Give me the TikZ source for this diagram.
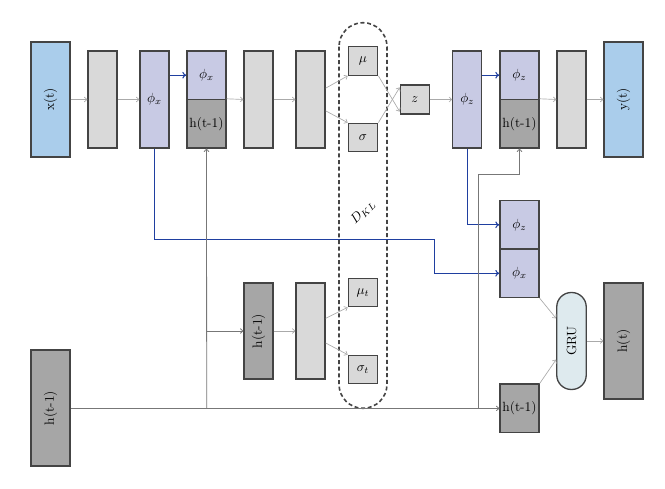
\documentclass[tikz,border=0pt]{standalone}
\usetikzlibrary{arrows.meta}
\definecolor{cblue}{HTML}{AACDEB}
\definecolor{cgray}{HTML}{D9D9D9}
\definecolor{clav}{HTML}{C8CAE4}
\definecolor{cdark}{HTML}{A6A6A6}
\definecolor{cgru}{HTML}{DEEAEE}
\definecolor{cborder}{HTML}{444444}
\definecolor{carrow}{HTML}{AAAAAA}
\definecolor{cline}{HTML}{777777}
\definecolor{cbl}{HTML}{1F3FA0}
\tikzset{
  sz/.style 2 args={minimum width=#1*0.75pt, minimum height=#2*0.75pt},
  box/.style={draw=cborder, line width=1pt, inner sep=0pt, font=\normalsize},
  inbox/.style={box, fill=cblue, sz={39}{115}},
  graybox/.style={box, fill=cgray, sz={29}{97}},
  phibox/.style={box, fill=clav, sz={29}{97}},
  halfphi/.style={box, fill=clav, sz={39}{48.5}},
  halfh/.style={box, fill=cdark, sz={39}{48.5}},
  smallbox/.style={box, fill=cgray, sz={29.5}{28.5}},
  tallh/.style={box, fill=cdark, sz={39}{116}},
  midh/.style={box, fill=cdark, sz={29}{96}},
  grubox/.style={box, fill=cgru, sz={29.5}{97}, rounded corners=14.5*0.75pt},
  garrow/.style={draw=carrow, line width=0.5pt, -{To[length=2.5pt,width=4pt]}},
  gline/.style={draw=cline, line width=0.6pt},
  garrowd/.style={gline, -{To[length=2.5pt,width=4pt]}},
  barrow/.style={draw=cbl, line width=0.8pt, -{To[length=3pt,width=5pt]}},
  dkl/.style={draw=cborder, line width=1.2pt, dash pattern=on 3pt off 2pt, rounded corners=24*0.75pt}
}
\begin{document}
\begin{tikzpicture}[x=0.75pt,y=-0.75pt]
\useasboundingbox (0,0) rectangle (665,489);
% dashed D_KL region
\draw[dkl] (339,22.7) rectangle (387,408.3);
\node[inner sep=0pt] (dkllab) at (363,212) [rotate=45] {$D_{KL}$};
% top row
\node[inbox] (xt) at (50.5,99.5) {\rotatebox{90}{x(t)}};
\node[graybox] (g1) at (102.5,99.5) {};
\node[phibox] (phix) at (154.5,99.5) {$\phi_x$};
\node[halfphi] (phix2) at (206.5,75.2) {$\phi_x$};
\node[halfh] (h1) at (206.5,123.7) {h(t-1)};
\node[graybox] (g2) at (258.5,99.5) {};
\node[graybox] (g3) at (310.5,99.5) {};
\node[smallbox] (mu) at (363,61) {$\mu$};
\node[smallbox] (sig) at (363,137.5) {$\sigma$};
\node[smallbox, sz={29}{29}] (z) at (414.8,99.5) {$z$};
\node[phibox] (phiz) at (467.3,99.5) {$\phi_z$};
\node[halfphi] (phiz2) at (519.5,75.2) {$\phi_z$};
\node[halfh] (h2) at (519.5,123.7) {h(t-1)};
\node[graybox] (g4) at (571.5,99.5) {};
\node[inbox] (yt) at (623.5,99.5) {\rotatebox{90}{y(t)}};
% bottom part
\node[tallh] (hb) at (50.5,408) {\rotatebox{90}{h(t-1)}};
\node[midh] (hm) at (258.5,331) {\rotatebox{90}{h(t-1)}};
\node[graybox, sz={29}{96}] (gm) at (310.5,331) {};
\node[smallbox] (mut) at (363,292.5) {$\mu_t$};
\node[smallbox] (sigt) at (363,369.5) {$\sigma_t$};
\node[halfphi] (phiz3) at (519.5,224.8) {$\phi_z$};
\node[halfphi] (phix3) at (519.5,273.3) {$\phi_x$};
\node[halfh] (hr) at (519.5,408.4) {h(t-1)};
\node[grubox] (gru) at (571.5,341) {\rotatebox{90}{GRU}};
\node[tallh] (ht) at (623.5,341) {\rotatebox{90}{h(t)}};
% coordinates
\coordinate (j1) at (206.7,408);
\coordinate (j2) at (206.7,331);
\coordinate (j3) at (478.7,408);
\coordinate (j4) at (478.7,174);
\coordinate (j5) at (519.5,174);
% light gray arrows
\draw[garrow] (xt) -- (g1);
\draw[garrow] (g1) -- (phix);
\draw[garrow] (h1.north east) -- (g2.west);
\draw[garrow] (g2) -- (g3);
\draw[garrow] ([yshift=8.5pt]g3.east) -- (mu.south west);
\draw[garrow] ([yshift=-8.5pt]g3.east) -- (sig.north west);
\draw[garrow] (mu.south east) -- ([yshift=-9pt]z.west);
\draw[garrow] (sig.north east) -- ([yshift=9pt]z.west);
\draw[garrow] (z) -- (phiz);
\draw[garrow] (h2.north east) -- (g4.west);
\draw[garrow] (g4) -- (yt);
\draw[garrow] (hm) -- (gm);
\draw[garrow] ([yshift=9.5pt]gm.east) -- (mut.south west);
\draw[garrow] ([yshift=-9pt]gm.east) -- (sigt.north west);
\draw[garrow] (phix3.south east) -- ([yshift=17pt]gru.west);
\draw[garrow] (hr.north east) -- ([yshift=-14pt]gru.west);
\draw[garrow] (gru) -- (ht);
% blue arrows
\draw[barrow] (phix.east |- phix2.west) -- (phix2.west);
\draw[barrow] (phiz.east |- phiz2.west) -- (phiz2.west);
\draw[barrow] (phix.south) |- (434.7,239.3) |- (phix3.west);
\draw[barrow] (phiz.south) |- (phiz3.west);
% dark gray lines
\draw[garrowd] (hb.east |- hr.west) -- (hr.west);
\draw[garrowd] (j1) -- (h1.south);
\draw[garrowd] (j2) -- (hm.west);
\draw[garrowd] (j3) -- (j4) -- (j5) -- (h2.south);
\end{tikzpicture}
\end{document}
